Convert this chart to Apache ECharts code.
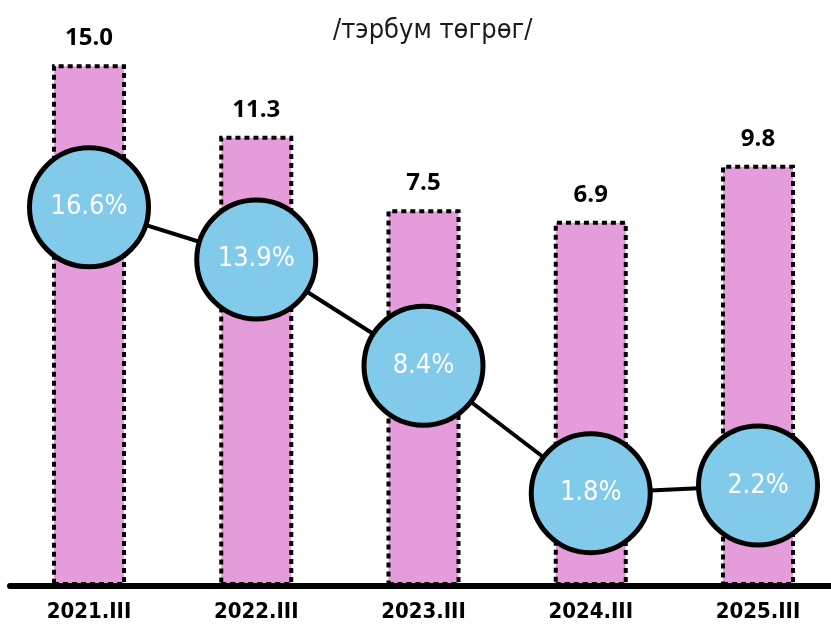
<!DOCTYPE html>
<html>
<head>
<meta charset="utf-8">
<script src="https://cdn.jsdelivr.net/npm/echarts@6/dist/echarts.min.js"></script>
<style>
  html, body { margin: 0; padding: 0; background: #fff; }
  #main { width: 831px; height: 627px; }
</style>
</head>
<body>
<div id="main"></div>
<script>
// data
const categories = ['2021.III', '2022.III', '2023.III', '2024.III', '2025.III'];
const barValues = [15.0, 11.3, 7.5, 6.9, 9.8];     // тэрбум төгрөг
const pctValues = [16.6, 13.9, 8.4, 1.8, 2.2];     // %

const narrow = "'DejaVu Sans Condensed', sans-serif";

const chart = echarts.init(document.getElementById('main'));

const option = {
  animation: false,
  title: {
    text: '/тэрбум төгрөг/',
    left: 328,
    top: 12,
    textStyle: {
      fontFamily: narrow,
      fontSize: 27,
      fontWeight: 'normal',
      color: '#1a1a1a'
    }
  },
  grid: [
    // data grid, category centres from first to last bar
    { left: 89, right: 73, top: 45, bottom: 41 },
    // full-width grid, only for the long base line
    { left: 10, right: 0, top: 45, bottom: 41 }
  ],
  xAxis: [
    {
      type: 'category',
      gridIndex: 0,
      data: categories,
      boundaryGap: false,
      axisLine: { show: false },
      axisTick: { show: false },
      axisLabel: {
        margin: 15,
        fontFamily: narrow,
        fontSize: 22,
        fontWeight: 'bold',
        color: '#000'
      },
      z: 5
    },
    {
      type: 'category',
      gridIndex: 1,
      data: categories,
      axisLine: { onZero: false, lineStyle: { color: '#000', width: 6 } },
      axisTick: { show: false },
      axisLabel: { show: false },
      z: 5
    }
  ],
  yAxis: [
    { type: 'value', gridIndex: 0, min: -12, max: 16, startValue: -12, show: false, splitLine: { show: false } },
    { type: 'value', gridIndex: 0, min: -3, max: 25, show: false, splitLine: { show: false } },
    { type: 'value', gridIndex: 1, show: false, splitLine: { show: false } }
  ],
  series: [
    {
      name: 'тэрбум төгрөг',
      type: 'bar',
      xAxisIndex: 0,
      yAxisIndex: 0,
      data: barValues,
      barWidth: 74,
      itemStyle: {
        color: '#E49CDA',
        borderColor: '#000',
        borderWidth: 4,
        borderType: [5, 4]
      },
      label: {
        show: true,
        position: 'top',
        distance: 14,
        formatter: p => p.value.toFixed(1),
        fontFamily: "'Open Sans', sans-serif",
        fontSize: 24,
        fontWeight: 'bold',
        color: '#000'
      },
      z: 2
    },
    {
      name: '%',
      type: 'line',
      xAxisIndex: 0,
      yAxisIndex: 1,
      data: pctValues,
      symbol: 'circle',
      symbolSize: 119,
      lineStyle: { color: '#000', width: 4 },
      itemStyle: {
        color: '#82CAEA',
        borderColor: '#000',
        borderWidth: 5
      },
      label: {
        show: true,
        position: 'inside',
        formatter: p => p.value.toFixed(1) + '%',
        fontFamily: narrow,
        fontSize: 27,
        color: '#fff'
      },
      z: 3
    }
  ]
};

chart.setOption(option);
</script>
</body>
</html>
